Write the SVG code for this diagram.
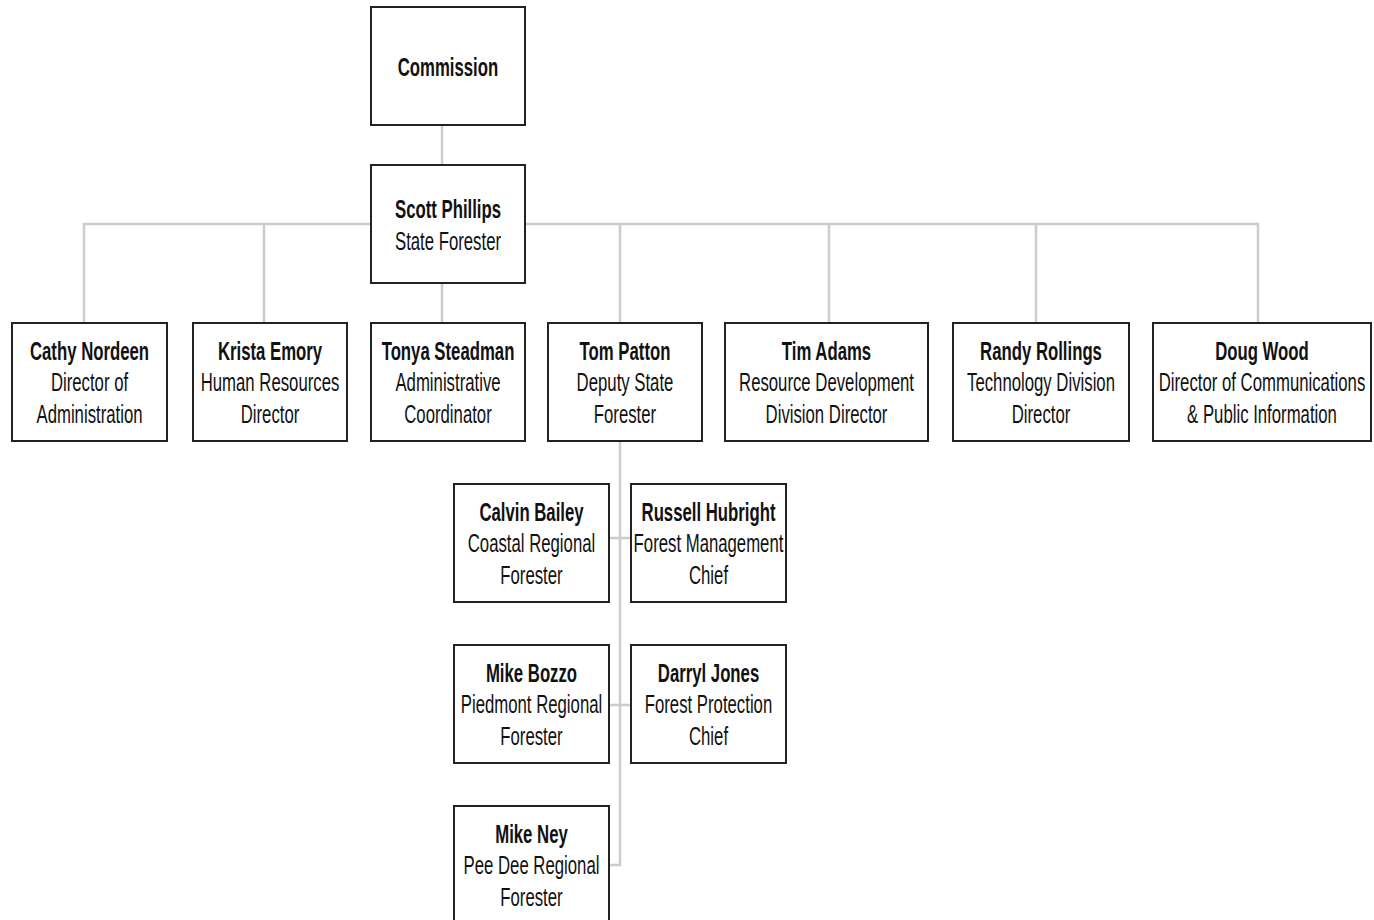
<svg xmlns="http://www.w3.org/2000/svg" width="1374" height="920" viewBox="0 0 1374 920">
<style>
.box{fill:#fff;stroke:#222;stroke-width:2}
.con{fill:none;stroke:#cccccc;stroke-width:2.5}
text{font-family:"Liberation Sans",Arial,sans-serif;font-size:25px;fill:#111;text-anchor:middle}
.b{font-weight:bold}
</style>
<rect width="1374" height="920" fill="#fff"/>
<g id="connectors">
<path class="con" d="M442 126V165"/>
<path class="con" d="M84 323V224H1258V323"/>
<path class="con" d="M264 224V323M442 283V323M620 224V323M829 224V323M1036 224V323"/>
<path class="con" d="M620 441V865H609"/>
<path class="con" d="M609 538H631M609 705H631"/>
</g>
<g id="commission">
<rect class="box" x="371" y="7" width="154" height="118"/>
<g transform="translate(448 0) scale(0.67 1)"><text class="b" y="76">Commission</text></g>
</g>
<g id="scott">
<rect class="box" x="371" y="165" width="154" height="118"/>
<g transform="translate(448 0) scale(0.67 1)"><text class="b" y="218">Scott Phillips</text><text y="250">State Forester</text></g>
</g>
<g id="cathy">
<rect class="box" x="12" y="323" width="155" height="118"/>
<g transform="translate(89.5 0) scale(0.67 1)"><text class="b" y="360">Cathy Nordeen</text><text y="391.5">Director of</text><text y="423">Administration</text></g>
</g>
<g id="krista">
<rect class="box" x="193" y="323" width="154" height="118"/>
<g transform="translate(270 0) scale(0.67 1)"><text class="b" y="360">Krista Emory</text><text y="391.5">Human Resources</text><text y="423">Director</text></g>
</g>
<g id="tonya">
<rect class="box" x="371" y="323" width="154" height="118"/>
<g transform="translate(448 0) scale(0.67 1)"><text class="b" y="360">Tonya Steadman</text><text y="391.5">Administrative</text><text y="423">Coordinator</text></g>
</g>
<g id="tom">
<rect class="box" x="548" y="323" width="154" height="118"/>
<g transform="translate(625 0) scale(0.67 1)"><text class="b" y="360">Tom Patton</text><text y="391.5">Deputy State</text><text y="423">Forester</text></g>
</g>
<g id="tim">
<rect class="box" x="725" y="323" width="203" height="118"/>
<g transform="translate(826.5 0) scale(0.67 1)"><text class="b" y="360">Tim Adams</text><text y="391.5">Resource Development</text><text y="423">Division Director</text></g>
</g>
<g id="randy">
<rect class="box" x="953" y="323" width="176" height="118"/>
<g transform="translate(1041 0) scale(0.67 1)"><text class="b" y="360">Randy Rollings</text><text y="391.5">Technology Division</text><text y="423">Director</text></g>
</g>
<g id="doug">
<rect class="box" x="1153" y="323" width="218" height="118"/>
<g transform="translate(1262 0) scale(0.67 1)"><text class="b" y="360">Doug Wood</text><text y="391.5">Director of Communications</text><text y="423">&amp; Public Information</text></g>
</g>
<g id="calvin">
<rect class="box" x="454" y="484" width="155" height="118"/>
<g transform="translate(531.5 0) scale(0.67 1)"><text class="b" y="521">Calvin Bailey</text><text y="552.5">Coastal Regional</text><text y="584">Forester</text></g>
</g>
<g id="russell">
<rect class="box" x="631" y="484" width="155" height="118"/>
<g transform="translate(708.5 0) scale(0.67 1)"><text class="b" y="521">Russell Hubright</text><text y="552.5">Forest Management</text><text y="584">Chief</text></g>
</g>
<g id="mikebozzo">
<rect class="box" x="454" y="645" width="155" height="118"/>
<g transform="translate(531.5 0) scale(0.67 1)"><text class="b" y="682">Mike Bozzo</text><text y="713.5">Piedmont Regional</text><text y="745">Forester</text></g>
</g>
<g id="darryl">
<rect class="box" x="631" y="645" width="155" height="118"/>
<g transform="translate(708.5 0) scale(0.67 1)"><text class="b" y="682">Darryl Jones</text><text y="713.5">Forest Protection</text><text y="745">Chief</text></g>
</g>
<g id="mikeney">
<rect class="box" x="454" y="806" width="155" height="118"/>
<g transform="translate(531.5 0) scale(0.67 1)"><text class="b" y="843">Mike Ney</text><text y="874.5">Pee Dee Regional</text><text y="906">Forester</text></g>
</g>
</svg>
